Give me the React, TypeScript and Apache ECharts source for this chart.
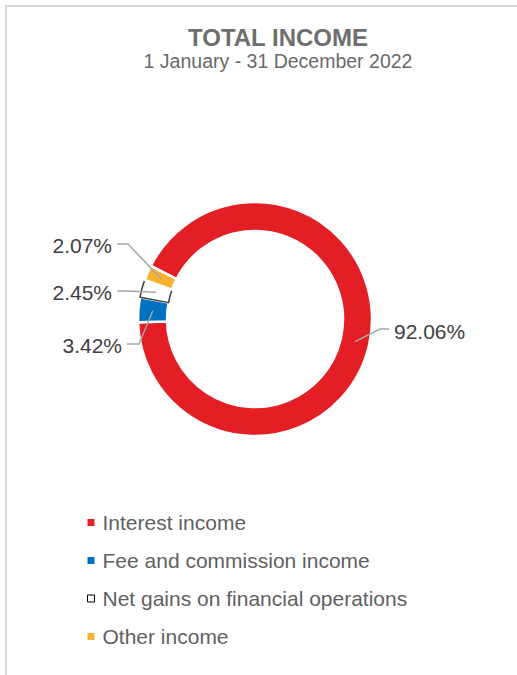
import React, { useEffect, useRef } from 'react';
import * as echarts from 'echarts';

const categories = [
  'Interest income',
  'Fee and commission income',
  'Net gains on financial operations',
  'Other income',
];
const shares = [92.06, 3.42, 2.45, 2.07];
const sliceColors = ['#e31e25', '#0070c0', '#ffffff', '#f8b131'];
const titleText = 'TOTAL INCOME';
const subtitleText = '1 January - 31 December 2022';

const FONT = "'Liberation Sans', Arial, sans-serif";
const CX = 255;
const CY = 319;
const R0 = 88;
const R1 = 117;
const START = 153;
const LINE_COLOR = '#a6a6a6';

const labelPlacement = [
  { x: 394, y: 331, side: 'left', elbow: 14, dy: -2 },
  { x: 122, y: 345, side: 'right', elbow: 17, dy: -1 },
  { x: 112, y: 292, side: 'right', elbow: 16, dy: -1 },
  { x: 112, y: 245, side: 'right', elbow: 16, dy: -1 },
];

export default function App() {
  const ref = useRef<HTMLDivElement>(null);
  useEffect(() => {
    if (!ref.current) return;
    const chart = echarts.init(ref.current, undefined, { renderer: 'svg' });
    const total = shares.reduce((a, b) => a + b, 0);
    const data = categories.map((name, i) => ({
      name,
      value: shares[i],
      itemStyle:
        i === 2
          ? { color: sliceColors[i], borderColor: '#404040', borderWidth: 1.5 }
          : { color: sliceColors[i], borderColor: '#ffffff', borderWidth: 2.5 },
    }));

    // leader lines: from the middle of each ring slice (at its mid-angle) to its label
    const leaderLines = categories.map((_, i) => {
      const pl = labelPlacement[i];
      let cum = 0;
      for (let k = 0; k < i; k++) cum += shares[k];
      const mid = ((START - ((cum + shares[i] / 2) / total) * 360) * Math.PI) / 180;
      const rm = (R0 + R1) / 2;
      const ax = CX + rm * Math.cos(mid);
      const ay = CY - rm * Math.sin(mid);
      const sgn = pl.side === 'right' ? 1 : -1;
      const ly = pl.y + pl.dy;
      return {
        type: 'polyline',
        silent: true,
        z: 100,
        shape: {
          points: [
            [ax, ay],
            [pl.x + sgn * pl.elbow, ly],
            [pl.x + sgn * 5, ly],
          ],
        },
        style: { stroke: LINE_COLOR, lineWidth: 1.5, fill: 'none' },
      };
    });

    chart.setOption({
      animation: false,
      graphic: [
        {
          type: 'rect',
          silent: true,
          z: -10,
          shape: { x: 6, y: 6, width: 700, height: 900 },
          style: { fill: 'none', stroke: '#d9d9d9', lineWidth: 2 },
        },
        {
          type: 'text',
          x: 278,
          y: 37,
          style: {
            text: titleText,
            fontFamily: FONT,
            fontSize: 24,
            fontWeight: 'bold',
            fill: '#6e6e6e',
            align: 'center',
            verticalAlign: 'middle',
          },
        },
        {
          type: 'text',
          x: 278,
          y: 61,
          style: {
            text: subtitleText,
            fontFamily: FONT,
            fontSize: 19.5,
            fill: '#6a6a6a',
            align: 'center',
            verticalAlign: 'middle',
          },
        },
        ...leaderLines,
      ],
      legend: {
        orient: 'vertical',
        left: 82,
        top: 507,
        itemWidth: 7,
        itemHeight: 7,
        itemGap: 17,
        icon: 'rect',
        selectedMode: false,
        textStyle: {
          fontFamily: FONT,
          fontSize: 21,
          color: '#5f5f5f',
          padding: [0, 0, 0, 3],
        },
        data: categories.map((name, i) =>
          i === 2
            ? { name, itemStyle: { color: '#ffffff', borderColor: '#000000', borderWidth: 1 } }
            : { name, itemStyle: { color: sliceColors[i], borderWidth: 0 } }
        ),
      },
      series: [
        {
          type: 'pie',
          center: [CX, CY],
          radius: [R0, R1],
          startAngle: START,
          clockwise: true,
          avoidLabelOverlap: false,
          silent: true,
          data,
          label: {
            show: true,
            position: 'outside',
            fontFamily: FONT,
            fontSize: 21,
            color: '#404040',
            formatter: (p: any) => `${Number(p.value).toFixed(2)}%`,
          },
          labelLine: { show: false },
          labelLayout: (p: any) => {
            const pl = labelPlacement[p.dataIndex];
            return { x: pl.x, y: pl.y, align: pl.side, verticalAlign: 'middle' };
          },
          emphasis: { disabled: true },
        },
      ],
    });
    return () => chart.dispose();
  }, []);
  return (
    <div
      ref={ref}
      style={{ position: 'fixed', left: 0, top: 0, width: 517, height: 675, background: '#fff' }}
    />
  );
}
